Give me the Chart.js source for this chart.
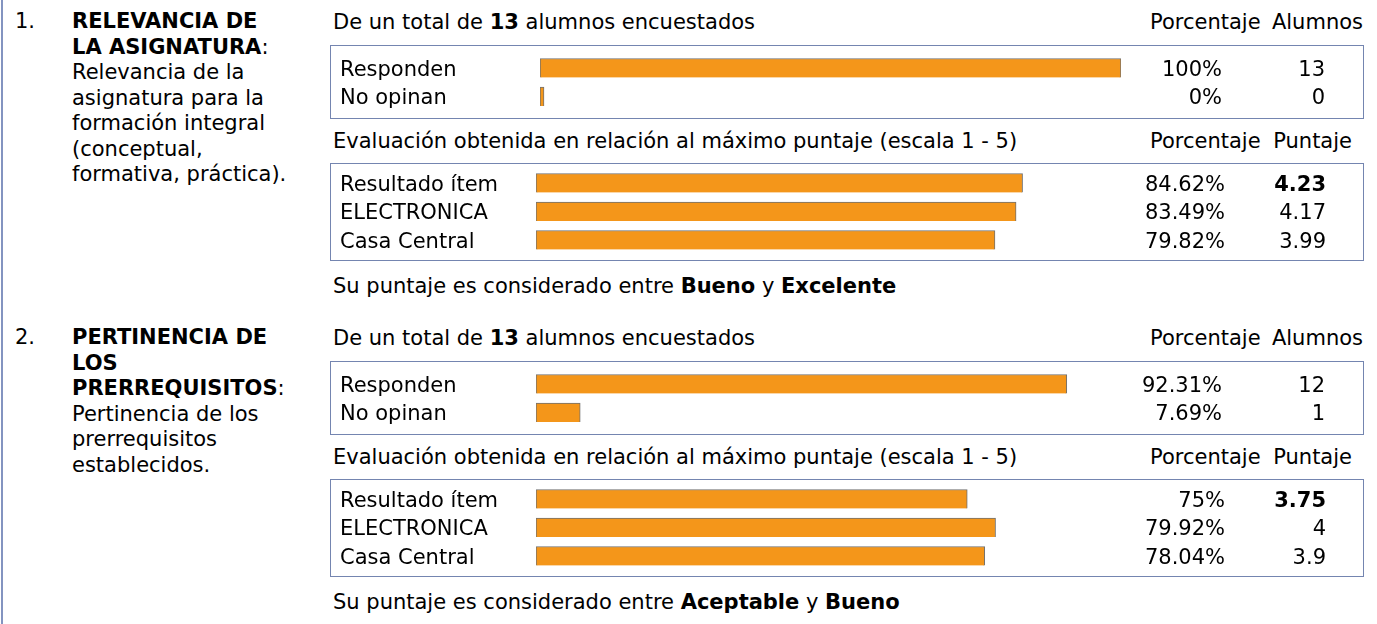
<!DOCTYPE html>
<html lang="es">
<head>
<meta charset="utf-8">
<title>Resultados de la encuesta</title>
<script src="https://cdn.jsdelivr.net/npm/chart.js@4.4.1/dist/chart.umd.min.js"></script>
<style>
  html, body { margin: 0; padding: 0; background: #fff; }
  #page {
    position: relative; width: 1377px; height: 624px; overflow: hidden;
    font-family: "DejaVu Sans", Verdana, sans-serif; font-size: 21px;
    line-height: 25.5px; color: #000;
  }
  #rule { position: absolute; left: 1px; top: 0; width: 2px; height: 624px; background: #8394c0; }
  .t { position: absolute; white-space: nowrap; }
  .box {
    position: absolute; left: 330px; width: 1032px;
    border: 1px solid #7485b0; background: #fff;
  }
  .box canvas { display: block; }
</style>
</head>
<body>
<div id="page"><div id="rule"></div></div>
<script>
// ---- survey data ----
const itemNumbers   = ['1.', '2.'];
const itemTitles    = [['RELEVANCIA DE', 'LA ASIGNATURA'], ['PERTINENCIA DE', 'LOS', 'PRERREQUISITOS']];
const itemDetails   = [['Relevancia de la', 'asignatura para la', 'formación integral', '(conceptual,', 'formativa, práctica).'],
                       ['Pertinencia de los', 'prerrequisitos', 'establecidos.']];
const totalAlumnos  = [13, 13];

const respLabels    = ['Responden', 'No opinan'];
const resp1Pct      = [100, 0];
const resp1Count    = [13, 0];
const resp2Pct      = [92.31, 7.69];
const resp2Count    = [12, 1];

const evalLabels    = ['Resultado ítem', 'ELECTRONICA', 'Casa Central'];
const eval1Pct      = [84.62, 83.49, 79.82];
const eval1Score    = [4.23, 4.17, 3.99];
const eval2Pct      = [75, 79.92, 78.04];
const eval2Score    = [3.75, 4, 3.9];

const verdictLow    = ['Bueno', 'Aceptable'];
const verdictHigh   = ['Excelente', 'Bueno'];

const respPct   = [resp1Pct, resp2Pct];
const respCount = [resp1Count, resp2Count];
const evalPct   = [eval1Pct, eval2Pct];
const evalScore = [eval1Score, eval2Score];

// ---- layout ----
const page = document.getElementById('page');
const FONT = '"DejaVu Sans", Verdana, sans-serif';
const CAP = 12.4;          // offset from line top to cap centre at 21px / 25.5px
const SECTION_STEP = 316;

function text(html, left, capY) {
  const d = document.createElement('div');
  d.className = 't';
  d.innerHTML = html;
  d.style.left = left + 'px';
  d.style.top = (capY - CAP) + 'px';
  page.appendChild(d);
  return d;
}
function rightText(html, right, capY) {
  const d = text(html, 0, capY);
  d.style.left = '';
  d.style.right = (1377 - right) + 'px';
  return d;
}

// draws the row label, percentage and count/score of every bar
const rowText = {
  id: 'rowText',
  afterDatasetsDraw(chart, args, o) {
    const { ctx } = chart;
    const y = chart.scales.y;
    ctx.save();
    ctx.fillStyle = '#000';
    ctx.textBaseline = 'alphabetic';
    o.labels.forEach((lab, i) => {
      const by = y.getPixelForValue(i) + 7.6;
      ctx.font = '21px ' + FONT;
      ctx.textAlign = 'left';
      ctx.fillText(lab, o.labelX, by);
      ctx.textAlign = 'right';
      ctx.fillText(o.pct[i] + '%', o.pctX, by);
      ctx.font = (o.boldFirst && i === 0 ? 'bold ' : '') + '21px ' + FONT;
      ctx.fillText(String(o.val[i]), o.valX, by);
    });
    ctx.restore();
  }
};

function barBox(top, height, labels, pct, val, opt) {
  const box = document.createElement('div');
  box.className = 'box';
  box.style.top = top + 'px';
  box.style.height = (height - 2) + 'px';
  const cv = document.createElement('canvas');
  cv.width = 1032; cv.height = height - 2;
  cv.style.width = '1032px'; cv.style.height = (height - 2) + 'px';
  box.appendChild(cv);
  page.appendChild(box);
  new Chart(cv, {
    type: 'bar',
    data: {
      labels: labels,
      datasets: [{
        data: pct,
        backgroundColor: '#f4961a',
        borderColor: '#707070',
        borderWidth: 1,
        borderSkipped: 'bottom',
        barThickness: 19,
        minBarLength: 4
      }]
    },
    options: {
      indexAxis: 'y',
      responsive: false,
      animation: false,
      events: [],
      layout: { padding: opt.pad },
      scales: {
        x: { display: false, min: 0, max: 100, grid: { display: false } },
        y: { display: false, grid: { display: false } }
      },
      plugins: {
        legend: { display: false },
        tooltip: { enabled: false },
        rowText: { labels: labels, pct: pct, val: val, labelX: 9,
                   pctX: opt.pctX, valX: opt.valX, boldFirst: opt.boldFirst }
      }
    },
    plugins: [rowText]
  });
}

for (let s = 0; s < 2; s++) {
  const oy = s * SECTION_STEP;

  // left column: number, bold title and description
  text(itemNumbers[s], 15, 21.7 + oy);
  const lines = itemTitles[s].map((t, i) =>
    i === itemTitles[s].length - 1 ? '<b>' + t + '</b>:' : '<b>' + t + '</b>');
  text(lines.concat(itemDetails[s]).join('<br>'), 72, 21.7 + oy);

  // response block
  text('De un total de <b>' + totalAlumnos[s] + '</b> alumnos encuestados', 333, 22 + oy);
  text('Porcentaje', 1150, 22 + oy);
  rightText('Alumnos', 1363, 22 + oy);
  barBox(45 + oy, 74, respLabels, respPct[s], respCount[s], {
    pad: s === 0 ? { left: 209, right: 242, top: 7.75, bottom: 7.25 }
                 : { left: 205, right: 252, top: 7.75, bottom: 7.25 },
    pctX: 891, valX: 994, boldFirst: false
  });

  // evaluation block
  text('Evaluación obtenida en relación al máximo puntaje (escala 1 - 5)', 333, 141 + oy);
  text('Porcentaje', 1150, 141 + oy);
  rightText('Puntaje', 1352, 141 + oy);
  barBox(163 + oy, 98, evalLabels, evalPct[s], evalScore[s], {
    pad: { left: 205, right: 252, top: 4.75, bottom: 5.75 },
    pctX: 894, valX: 995, boldFirst: true
  });

  text('Su puntaje es considerado entre <b>' + verdictLow[s] + '</b> y <b>' + verdictHigh[s] + '</b>', 333, 286 + oy);
}
</script>
</body>
</html>
